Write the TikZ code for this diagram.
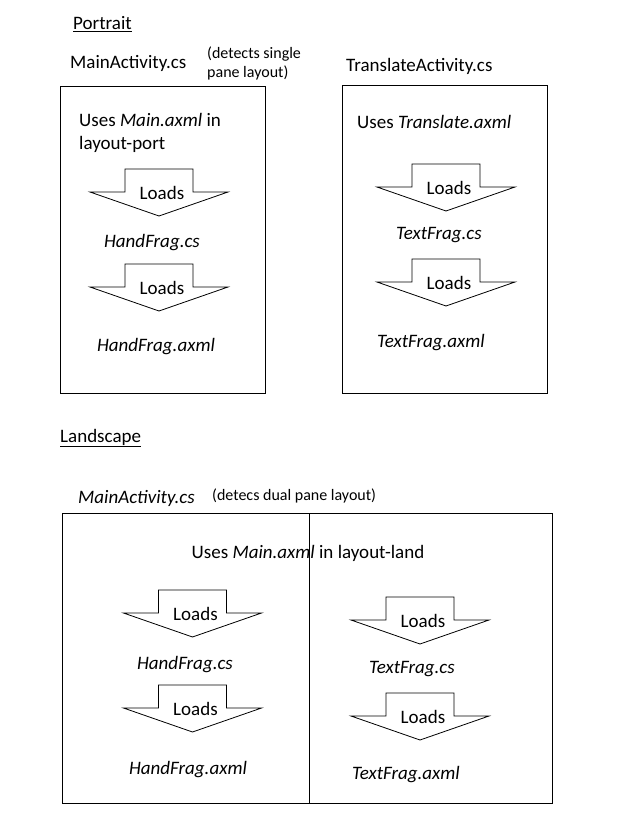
\documentclass[tikz,border=0pt]{standalone}
\usepackage{fontspec}
\setmainfont{Carlito}
\begin{document}
\begin{tikzpicture}[x=1pt,y=-1pt,
  box/.style={draw=black,line width=1pt},
  lbl/.style={inner sep=0pt,font=\fontsize{19}{23}\selectfont},
  small/.style={inner sep=0pt,font=\fontsize{16}{19}\selectfont,align=left},
  loadarrow/.pic={
    \draw[line width=0.8pt,line join=miter] (-34,0) -- (34,0) -- (34,23) -- (69,23) -- (0,47) -- (-69,23) -- (-34,23) -- cycle;
    \node[lbl] (-ld) at (3,24) {Loads};
  }]
\useasboundingbox (0,0) rectangle (643,831);
\fill[white] (0,0) rectangle (643,831);

% Portrait
\node[lbl,anchor=west] (portrait) at (73,24) {\underline{Portrait}};
\node[lbl,anchor=west] (mainact) at (70,63) {MainActivity.cs};
\node[small,anchor=west] (detsingle) at (207,63) {(detects single\\pane layout)};
\node[lbl,anchor=west] (transact) at (346,66) {TranslateActivity.cs};

\draw[box] (60,86) rectangle (265,393);
\draw[box] (342,85) rectangle (547,393);

\node[lbl,anchor=west,align=left] (usesmain) at (79,133) {Uses \textit{Main.axml} in\\layout-port};
\pic (pa1) at (159,169) {loadarrow};
\node[lbl] (hfcs) at (152,243) {\textit{HandFrag.cs}};
\pic (pa2) at (159,264) {loadarrow};
\node[lbl] (hfax) at (156,347) {\textit{HandFrag.axml}};

\node[lbl,anchor=west] (usestrans) at (357,122) {Uses \textit{Translate.axml}};
\pic (pb1) at (446,164) {loadarrow};
\node[lbl] (tfcs) at (439,235) {\textit{TextFrag.cs}};
\pic (pb2) at (446,259) {loadarrow};
\node[lbl] (tfax) at (431,343) {\textit{TextFrag.axml}};

% Landscape
\node[lbl,anchor=west] (landscape) at (60,438) {\underline{Landscape}};
\node[lbl,anchor=west] (mainact2) at (78,498) {\textit{MainActivity.cs}};
\node[small,anchor=west] (detdual) at (212,496) {(detecs dual pane layout)};

\draw[box] (62,513) rectangle (552,803);
\coordinate (divtop) at (309,513);
\coordinate (divbot) at (309,803);
\draw[box] (divtop) -- (divbot);

\node[lbl] (usesland) at (308,553) {Uses \textit{Main.axml} in layout-land};
\pic (la1) at (192.5,590) {loadarrow};
\node[lbl] (lhfcs) at (185,665) {\textit{HandFrag.cs}};
\pic (la2) at (192.5,685) {loadarrow};
\node[lbl] (lhfax) at (188,770) {\textit{HandFrag.axml}};

\pic (lb1) at (420,597) {loadarrow};
\node[lbl] (ltfcs) at (412,669) {\textit{TextFrag.cs}};
\pic (lb2) at (420,693) {loadarrow};
\node[lbl] (ltfax) at (406,775) {\textit{TextFrag.axml}};
\end{tikzpicture}
\end{document}
